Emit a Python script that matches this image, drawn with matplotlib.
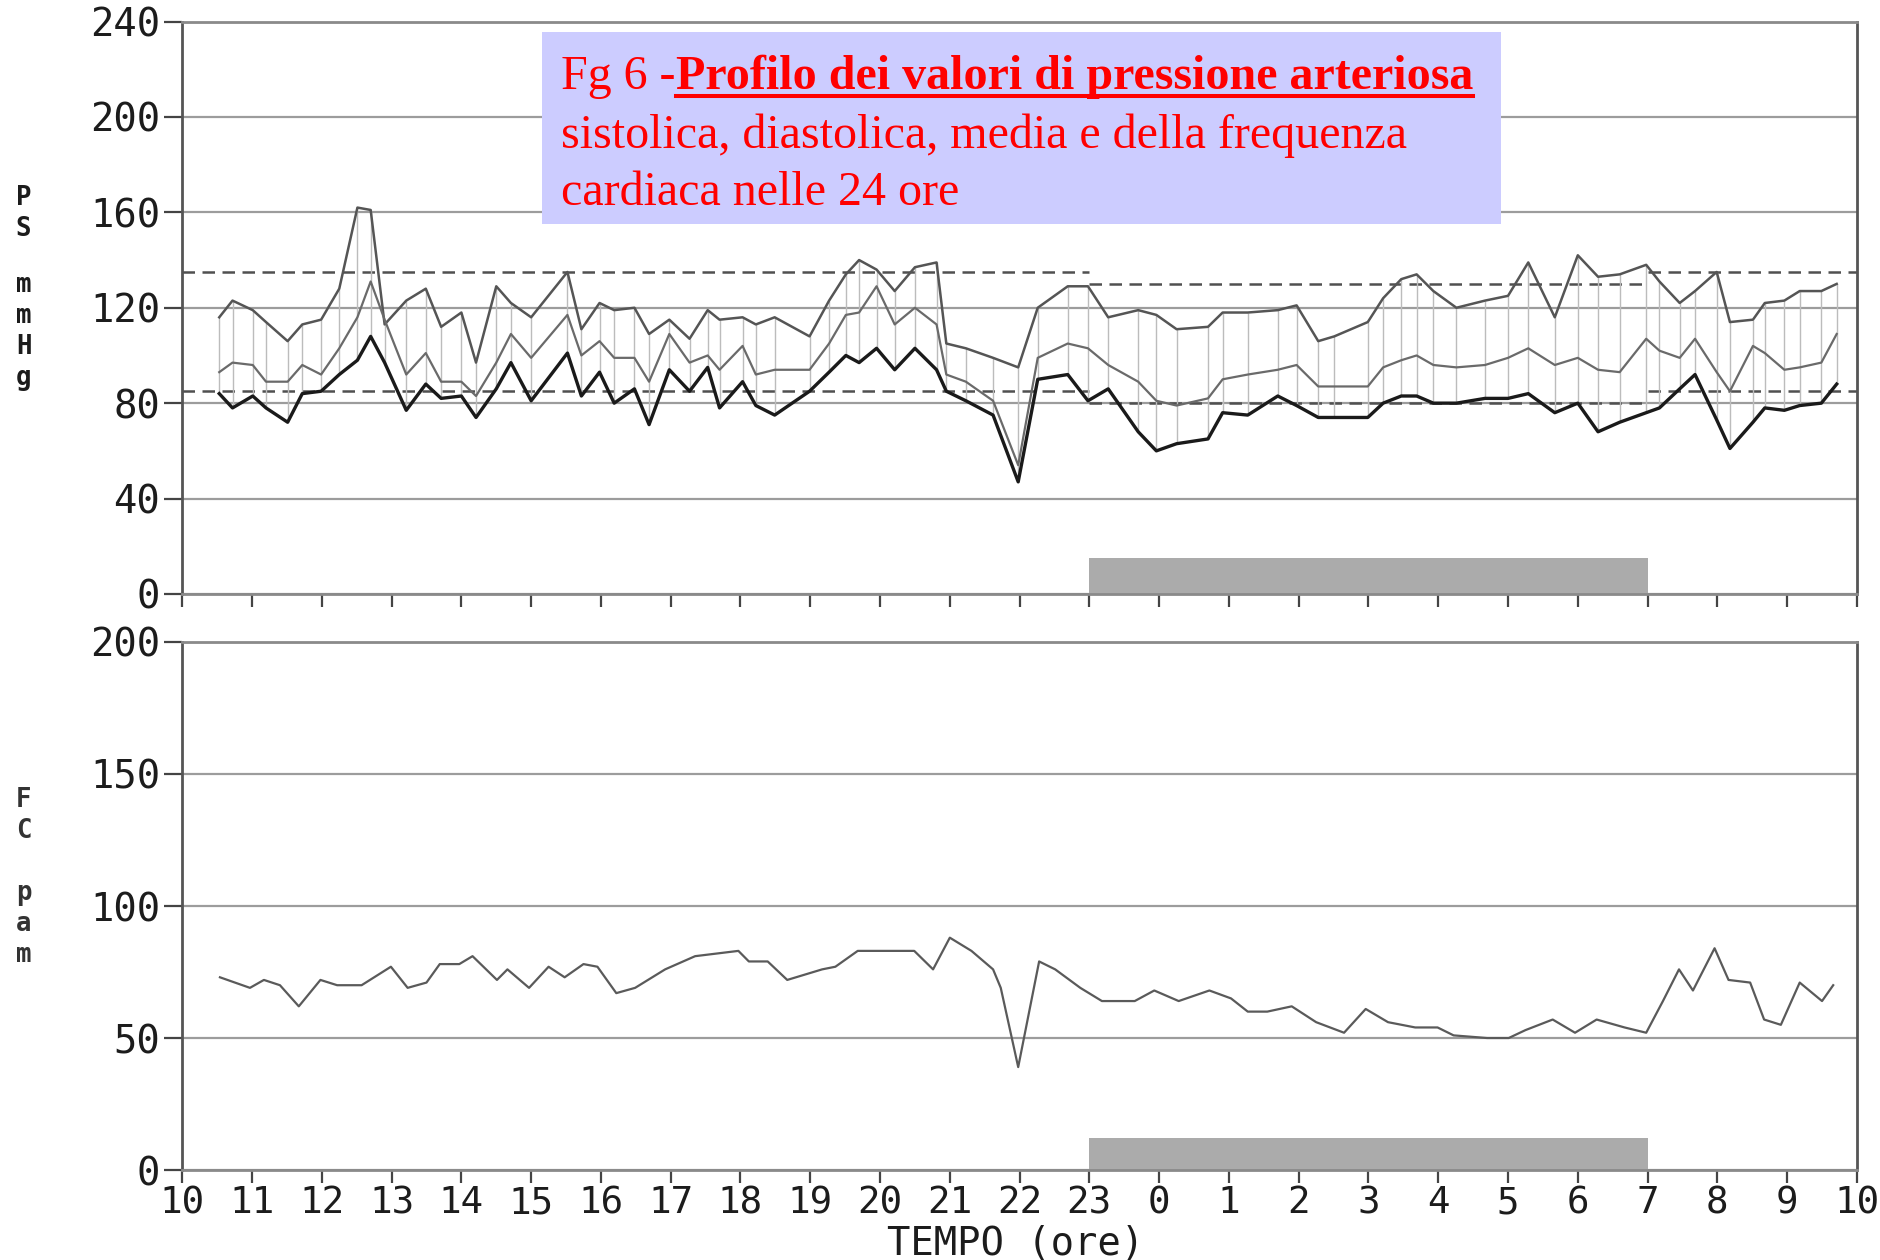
import matplotlib
matplotlib.use("Agg")
import matplotlib.pyplot as plt
from matplotlib.patches import Rectangle
from matplotlib.lines import Line2D

# ore continue: 10 -> 34 (34 = le 10 del giorno dopo)
bp_hours = [10.53, 10.72, 11.01, 11.20, 11.51, 11.72, 11.99, 12.25, 12.51, 12.70, 12.90,
            13.21, 13.49, 13.71, 14.00, 14.21, 14.50, 14.71, 15.00, 15.52, 15.72,
            15.98, 16.19, 16.48, 16.69, 16.98, 17.27, 17.53, 17.70, 18.03, 18.22, 18.49,
            18.99, 19.27, 19.51, 19.70, 19.95, 20.21, 20.50, 20.81, 20.95, 21.23, 21.62, 21.98,
            22.26, 22.69, 22.98, 23.27, 23.70, 23.96, 24.25, 24.70, 24.91, 25.27,
            25.70, 25.97, 26.28, 26.51, 26.99, 27.21, 27.47, 27.69, 27.93,
            28.26, 28.67, 29.00, 29.29, 29.67, 30.00, 30.29, 30.60, 30.98, 31.17,
            31.46, 31.68, 31.99, 32.18, 32.51, 32.68, 32.96, 33.18, 33.49, 33.71]
systolic = [116, 123, 119, 114, 106, 113, 115, 128, 162, 161, 113,
            123, 128, 112, 118, 97, 129, 122, 116, 135, 111,
            122, 119, 120, 109, 115, 107, 119, 115, 116, 113, 116,
            108, 123, 134, 140, 136, 127, 137, 139, 105, 103, 99, 95,
            120, 129, 129, 116, 119, 117, 111, 112, 118, 118,
            119, 121, 106, 108, 114, 124, 132, 134, 127,
            120, 123, 125, 139, 116, 142, 133, 134, 138, 131,
            122, 127, 135, 114, 115, 122, 123, 127, 127, 130]
mean_bp = [93, 97, 96, 89, 89, 96, 92, 103, 116, 131, 115,
           92, 101, 89, 89, 83, 97, 109, 99, 117, 100,
           106, 99, 99, 89, 109, 97, 100, 94, 104, 92, 94,
           94, 105, 117, 118, 129, 113, 120, 113, 92, 89, 81, 54,
           99, 105, 103, 96, 89, 81, 79, 82, 90, 92,
           94, 96, 87, 87, 87, 95, 98, 100, 96,
           95, 96, 99, 103, 96, 99, 94, 93, 107, 102,
           99, 107, 93, 85, 104, 101, 94, 95, 97, 109]
diastolic = [84, 78, 83, 78, 72, 84, 85, 92, 98, 108, 97,
             77, 88, 82, 83, 74, 86, 97, 81, 101, 83,
             93, 80, 86, 71, 94, 85, 95, 78, 89, 79, 75,
             85, 93, 100, 97, 103, 94, 103, 94, 85, 81, 75, 47,
             90, 92, 81, 86, 68, 60, 63, 65, 76, 75,
             83, 79, 74, 74, 74, 80, 83, 83, 80,
             80, 82, 82, 84, 76, 80, 68, 72, 76, 78,
             86, 92, 73, 61, 72, 78, 77, 79, 80, 88]

hr_hours = [10.54, 10.97, 11.17, 11.40, 11.67, 11.98, 12.22, 12.57, 12.99, 13.23,
            13.50, 13.69, 13.97, 14.16, 14.51, 14.66, 14.97, 15.25, 15.48, 15.75,
            15.95, 16.22, 16.49, 16.92, 17.35, 17.66, 17.97, 18.12, 18.39, 18.67,
            19.17, 19.36, 19.68, 20.18, 20.49, 20.76, 21.00, 21.31, 21.62, 21.73,
            21.98, 22.28, 22.51, 22.87, 23.18, 23.65, 23.93, 24.28, 24.72, 25.03,
            25.27, 25.55, 25.90, 26.25, 26.65, 26.96, 27.28, 27.67, 27.99, 28.22,
            28.70, 29.01, 29.25, 29.64, 29.96, 30.27, 30.67, 30.98, 31.22, 31.45,
            31.65, 31.96, 32.16, 32.47, 32.67, 32.91, 33.18, 33.50, 33.66]
heart_rate = [73, 69, 72, 70, 62, 72, 70, 70, 77, 69,
              71, 78, 78, 81, 72, 76, 69, 77, 73, 78,
              77, 67, 69, 76, 81, 82, 83, 79, 79, 72,
              76, 77, 83, 83, 83, 76, 88, 83, 76, 69,
              39, 79, 76, 69, 64, 64, 68, 64, 68, 65,
              60, 60, 62, 56, 52, 61, 56, 54, 54, 51,
              50, 50, 53, 57, 52, 57, 54, 52, 64, 76,
              68, 84, 72, 71, 57, 55, 71, 64, 70]

hour_ticks = list(range(10, 35))
hour_labels = [str(h % 24) for h in hour_ticks]
ps_ticks = [0, 40, 80, 120, 160, 200, 240]
fc_ticks = [0, 50, 100, 150, 200]

# etichette verticali, una lettera per riga
ps_letters = ['P', 'S', 'm', 'm', 'H', 'g']
fc_letters = ['F', 'C', 'p', 'a', 'm']

# soglie (da ora, a ora, sistolica, diastolica)
limits = [(10, 23, 135, 85), (23, 31, 130, 80), (31, 34, 135, 85)]
night_start, night_end = 23, 31
night_bar_ps = 15
night_bar_fc = 12

mono = 'DejaVu Sans Mono'
ink = '#1c1c1c'

fig = plt.figure(figsize=(18.81, 12.6), dpi=100)
ax1 = fig.add_axes([0.0969, 0.5286, 0.8903, 0.4543])
ax2 = fig.add_axes([0.0969, 0.0714, 0.8903, 0.4191])


def style(ax, yticks):
    ax.set_xlim(10, 34)
    ax.set_ylim(yticks[0], yticks[-1])
    ax.set_xticks(hour_ticks)
    ax.set_yticks(yticks)
    ax.set_yticklabels([str(t) for t in yticks], fontfamily=mono, fontsize=28, color=ink)
    ax.grid(axis='y', color='#9c9c9c', lw=1.6)
    ax.set_axisbelow(True)
    ax.tick_params(axis='y', direction='out', length=13, width=1.6, color='#444444', pad=3)
    ax.tick_params(axis='x', direction='out', length=9, width=1.6, color='#444444', pad=2)
    for side, s in ax.spines.items():
        s.set_color('#555555' if side in ('left', 'right') else '#8a8a8a')
        s.set_linewidth(2)


style(ax1, ps_ticks)
style(ax2, fc_ticks)
ax1.set_xticklabels([])
ax2.set_xticklabels(hour_labels, fontfamily=mono, fontsize=27, color=ink)

# fascia notturna
ax1.fill_between([night_start, night_end], 0, night_bar_ps, color='#ababab', lw=0)
ax2.fill_between([night_start, night_end], 0, night_bar_fc, color='#ababab', lw=0)

for a, b, s, d in limits:
    ax1.hlines([s, d], a, b, colors='#505050', linestyles=(0, (5, 3)), lw=1.8)

ax1.vlines(bp_hours, diastolic, systolic, colors='#bcbcbc', lw=1.0)
ax1.plot(bp_hours, systolic, color='#555555', lw=1.8)
ax1.plot(bp_hours, mean_bp, color='#6a6a6a', lw=1.6)
ax1.plot(bp_hours, diastolic, color='#1a1a1a', lw=2.4)

ax2.plot(hr_hours, heart_rate, color='#5a5a5a', lw=1.6)

# posizioni verticali delle lettere (pixel dall'alto)
ps_y = [198, 229, 285, 316, 347, 378]
fc_y = [800, 831, 893, 924, 955]
H = 1260.0
for ch, yy in zip(ps_letters, ps_y):
    fig.text(0.0125, 1 - yy / H, ch, ha='center', va='center', family=mono,
             fontsize=18.5, fontweight='bold', color=ink)
for ch, yy in zip(fc_letters, fc_y):
    fig.text(0.0125, 1 - yy / H, ch, ha='center', va='center', family=mono,
             fontsize=18.5, fontweight='bold', color='#333333')

fig.text(0.540, 0.0127, "TEMPO (ore)", ha='center', va='center',
         family=mono, fontsize=28, color=ink)

# riquadro titolo
fig.patches.append(Rectangle((0.288, 0.822), 0.510, 0.1526, transform=fig.transFigure,
                             facecolor='#ccccff', edgecolor='none', zorder=10))
serif = 'Liberation Serif'
fs = 34.6
t1 = fig.text(0.2983, 0.9294, "Fg 6 -", color='red', family=serif, fontsize=fs,
              va='baseline', zorder=11)
fig.canvas.draw()
renderer = fig.canvas.get_renderer()
x_end = t1.get_window_extent(renderer).x1 / fig.bbox.width
t2 = fig.text(x_end, 0.9294, "Profilo dei valori di pressione arteriosa", color='red',
              family=serif, fontsize=fs, fontweight='bold', va='baseline', zorder=11)
bb = t2.get_window_extent(renderer)
fig.lines.append(Line2D([bb.x0 / fig.bbox.width, bb.x1 / fig.bbox.width], [0.9238, 0.9238],
                        transform=fig.transFigure, color='red', lw=2.9, zorder=11))
fig.text(0.2983, 0.8825, "sistolica, diastolica, media e della frequenza", color='red',
         family=serif, fontsize=fs, va='baseline', zorder=11)
fig.text(0.2983, 0.8373, "cardiaca nelle 24 ore", color='red',
         family=serif, fontsize=fs, va='baseline', zorder=11)

fig.savefig('out.png', dpi=100)
